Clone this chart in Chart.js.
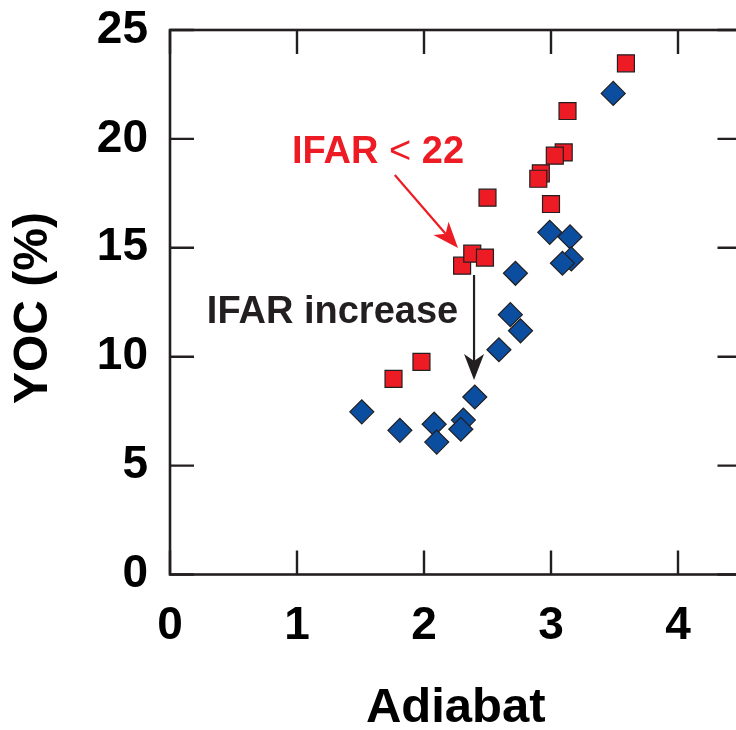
<!DOCTYPE html>
<html><head><meta charset="utf-8">
<script src="https://cdn.jsdelivr.net/npm/chart.js@4/dist/chart.umd.min.js"></script>
<style>
html,body{margin:0;padding:0;background:#fff;overflow:hidden;width:736px;height:730px}
#wrap{width:760px;height:730px;position:relative}
</style></head>
<body><div id="wrap"><canvas id="c" width="760" height="730"></canvas></div>
<script>
// ---- data ----
const xTicks = [0, 1, 2, 3, 4];
const yTicks = [0, 5, 10, 15, 20, 25];

// IFAR < 22 (red squares)
const redX = [3.59, 3.13, 3.10, 3.03, 2.92, 2.90, 2.50, 3.00, 2.30, 2.38, 2.48, 1.98, 1.76];
const redY = [23.47, 21.28, 19.38, 19.23, 18.42, 18.17, 17.30, 17.01, 14.18, 14.73, 14.55, 9.76, 8.98];

// IFAR increased (blue diamonds)
const blueX = [3.49, 2.99, 3.15, 3.16, 3.09, 2.72, 2.68, 2.76, 2.59, 2.40, 2.31, 2.29, 1.51, 1.81, 2.08, 2.10];
const blueY = [22.09, 15.71, 15.50, 14.49, 14.29, 13.83, 11.93, 11.19, 10.32, 8.15, 7.09, 6.67, 7.47, 6.62, 6.90, 6.08];

const xLabel = 'Adiabat';
const yLabel = 'YOC (%)';
const noteRed = ['IFAR', '<', '22'];
const noteBlack = 'IFAR increase';

// annotation anchors in data units
const redNotePos = {x: 0.96, y: 18.89};
const redArrow = {x0: 1.77, y0: 18.34, x1: 2.268, y1: 14.99};
const blackNotePos = {x: 0.29, y: 11.55};
const blackArrow = {x0: 2.394, y0: 13.75, x1: 2.394, y1: 8.93};

const RED = '#ED1C24', BLUE = '#0B4EA0', INK = '#231F20';
const FONT = '"Liberation Sans", Arial, Helvetica, sans-serif';

const toPts = (xs, ys) => xs.map((x, i) => ({x, y: ys[i]}));

function arrow(ctx, x0, y0, x1, y1, color) {
  const ang = Math.atan2(y1 - y0, x1 - x0);
  const len = 26, half = 10, notch = 19;
  const bx = x1 - Math.cos(ang) * notch, by = y1 - Math.sin(ang) * notch;
  ctx.save();
  ctx.strokeStyle = color; ctx.fillStyle = color; ctx.lineWidth = 2.2;
  ctx.beginPath(); ctx.moveTo(x0, y0); ctx.lineTo(bx, by); ctx.stroke();
  const cx = x1 - Math.cos(ang) * len, cy = y1 - Math.sin(ang) * len;
  const px = -Math.sin(ang) * half, py = Math.cos(ang) * half;
  ctx.beginPath();
  ctx.moveTo(x1, y1);
  ctx.lineTo(cx + px, cy + py);
  ctx.lineTo(bx, by);
  ctx.lineTo(cx - px, cy - py);
  ctx.closePath(); ctx.fill();
  ctx.restore();
}

const framePlugin = {
  id: 'frame',
  beforeDatasetsDraw(chart) {
    const {ctx, chartArea: a, scales: {x, y}} = chart;
    ctx.save();
    ctx.strokeStyle = INK; ctx.lineWidth = 2.6;
    ctx.strokeRect(a.left, a.top, a.right - a.left, a.bottom - a.top);
    ctx.lineWidth = 2.4;
    const tl = 24;
    ctx.beginPath();
    xTicks.forEach(v => {
      const px = x.getPixelForValue(v);
      ctx.moveTo(px, a.bottom); ctx.lineTo(px, a.bottom - tl);
      ctx.moveTo(px, a.top); ctx.lineTo(px, a.top + tl);
    });
    yTicks.forEach(v => {
      const py = y.getPixelForValue(v);
      ctx.moveTo(a.left, py); ctx.lineTo(a.left + tl, py);
      ctx.moveTo(a.right, py); ctx.lineTo(a.right - tl, py);
    });
    ctx.stroke();
    // y-axis title
    ctx.save();
    ctx.translate(34, 308);
    ctx.rotate(-Math.PI / 2);
    ctx.fillStyle = '#000';
    ctx.font = 'bold 48px ' + FONT;
    ctx.textAlign = 'center';
    ctx.textBaseline = 'middle';
    ctx.fillText(yLabel, 0, 0);
    ctx.restore();
    ctx.restore();
  },
  afterDatasetsDraw(chart) {
    const {ctx, scales: {x, y}} = chart;
    ctx.save();
    ctx.textBaseline = 'alphabetic';
    // red note
    let px = x.getPixelForValue(redNotePos.x), py = y.getPixelForValue(redNotePos.y);
    ctx.fillStyle = RED;
    ctx.font = 'bold 38px ' + FONT;
    ctx.fillText(noteRed[0], px, py);
    px += ctx.measureText(noteRed[0] + ' ').width;
    ctx.font = '38px ' + FONT;
    ctx.fillText(noteRed[1], px, py);
    px += ctx.measureText(noteRed[1]).width;
    ctx.font = 'bold 38px ' + FONT;
    px += ctx.measureText(' ').width;
    ctx.fillText(noteRed[2], px, py);
    arrow(ctx, x.getPixelForValue(redArrow.x0), y.getPixelForValue(redArrow.y0),
      x.getPixelForValue(redArrow.x1), y.getPixelForValue(redArrow.y1), RED);
    // black note
    ctx.fillStyle = INK;
    ctx.font = 'bold 38px ' + FONT;
    ctx.fillText(noteBlack, x.getPixelForValue(blackNotePos.x), y.getPixelForValue(blackNotePos.y));
    arrow(ctx, x.getPixelForValue(blackArrow.x0), y.getPixelForValue(blackArrow.y0),
      x.getPixelForValue(blackArrow.x1), y.getPixelForValue(blackArrow.y1), INK);
    ctx.restore();
  }
};

new Chart(document.getElementById('c'), {
  type: 'scatter',
  data: {
    datasets: [
      {label: 'IFAR < 22', data: toPts(redX, redY), pointStyle: 'rect', pointRadius: 12,
       backgroundColor: RED, borderColor: INK, borderWidth: 1.2},
      {label: 'IFAR increase', data: toPts(blueX, blueY), pointStyle: 'rectRot', pointRadius: 12,
       backgroundColor: BLUE, borderColor: INK, borderWidth: 1.2}
    ]
  },
  options: {
    responsive: false,
    animation: false,
    events: [],
    layout: {padding: {top: 30, right: 18.5, left: 0, bottom: 0}},
    plugins: {legend: {display: false}, tooltip: {enabled: false}},
    scales: {
      x: {
        type: 'linear', min: 0, max: 4.5,
        afterBuildTicks: s => { s.ticks = xTicks.map(v => ({value: v})); },
        afterFit: s => { s.height = 155.5; s.paddingLeft = 0; s.paddingRight = 0; },
        grid: {display: false, drawTicks: false},
        border: {display: false},
        ticks: {color: '#000', padding: 24, font: {family: FONT, size: 46, weight: 'bold'}},
        title: {display: true, text: xLabel, color: '#000', padding: {top: 0, bottom: -3},
                font: {family: FONT, size: 49, weight: 'bold', lineHeight: 1}}
      },
      y: {
        type: 'linear', min: 0, max: 25,
        afterBuildTicks: s => { s.ticks = yTicks.map(v => ({value: v})); },
        afterFit: s => { s.width = 170; s.paddingTop = 0; s.paddingBottom = 0; },
        grid: {display: false, drawTicks: false},
        border: {display: false},
        ticks: {color: '#000', padding: 22, font: {family: FONT, size: 46, weight: 'bold'}},
        title: {display: false}
      }
    }
  },
  plugins: [framePlugin]
});
</script>
</body></html>
